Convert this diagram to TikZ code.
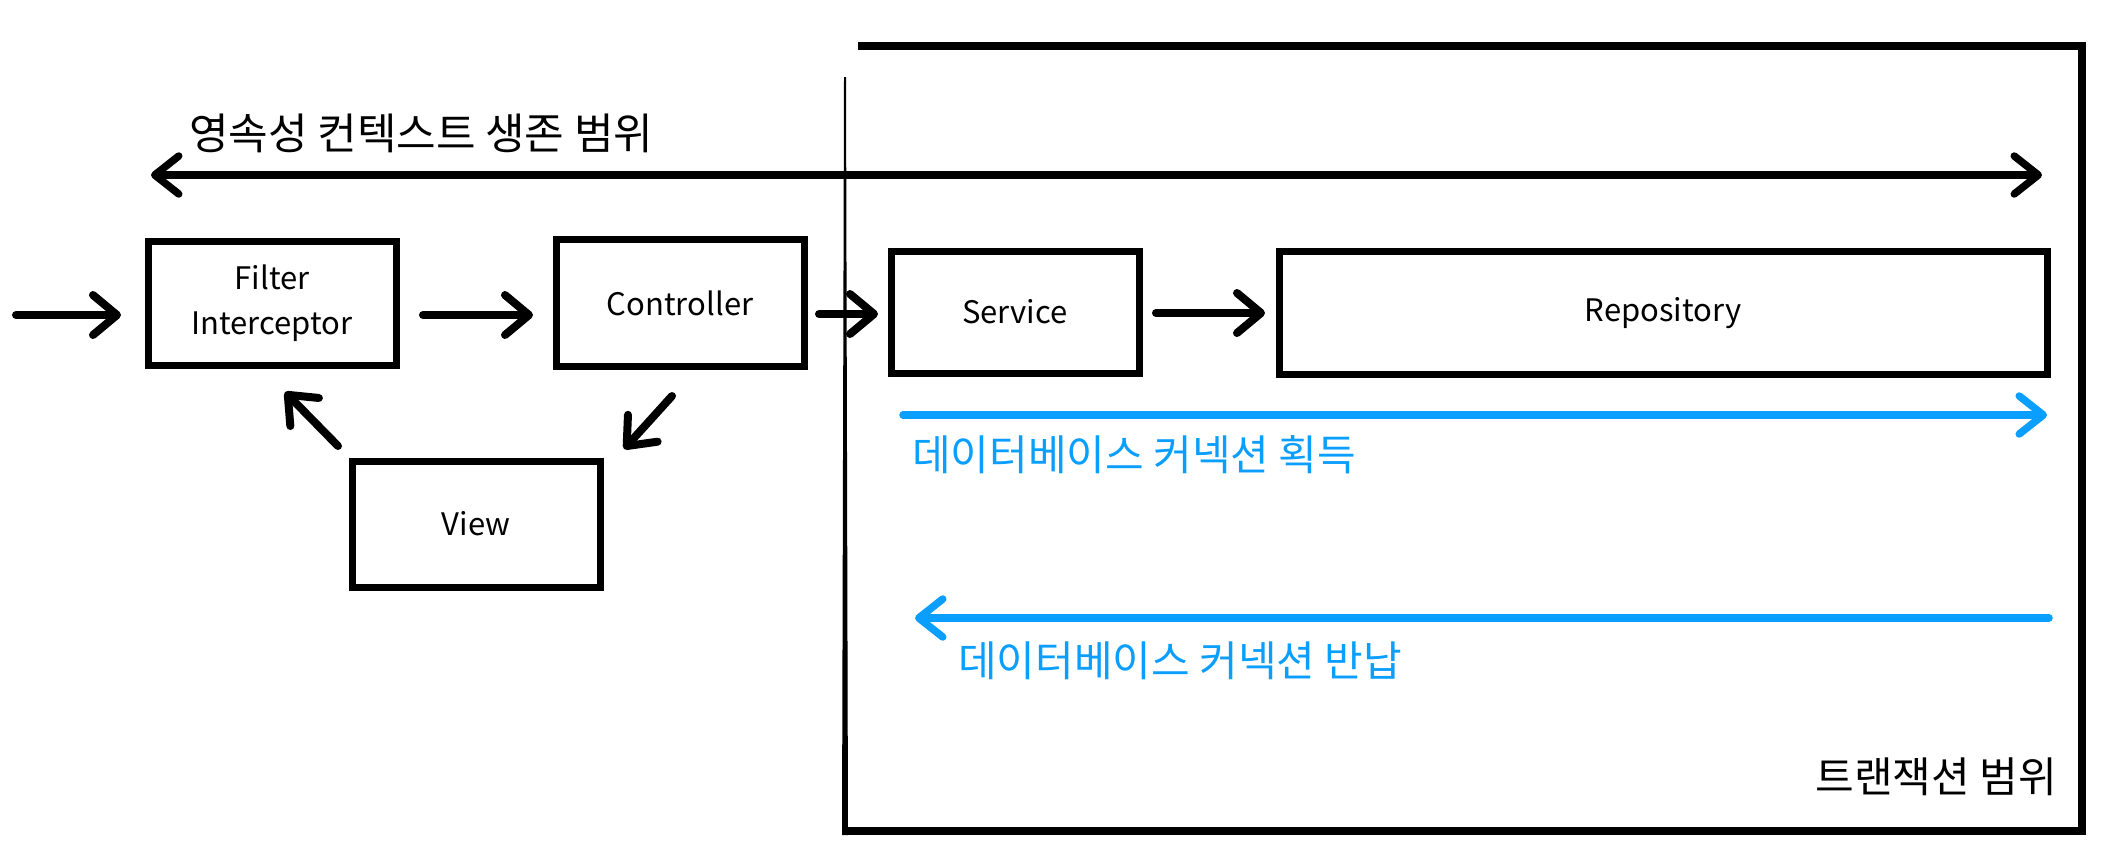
\documentclass[tikz,border=0pt]{standalone}
\usepackage{fontspec}
\setmainfont{Noto Sans CJK KR}
\usetikzlibrary{arrows.meta}
\definecolor{dbblue}{HTML}{0A9EFF}
\begin{document}
\begin{tikzpicture}[x=1pt,y=-1pt,
  box/.style={draw=black, line width=7pt, inner sep=0pt, align=center,
    font=\fontsize{31}{45}\selectfont},
  arr/.style={line width=8pt, line cap=round,
    -{Straight Barb[length=24pt,width=40pt,round]}},
  darr/.style={line width=7.5pt, line cap=round,
    {Straight Barb[length=24pt,width=38pt,round]}-{Straight Barb[length=24pt,width=38pt,round]}},
  barr/.style={draw=dbblue, line width=7.5pt, line cap=round,
    -{Straight Barb[length=24pt,width=38pt,round]}},
  lab/.style={inner sep=0pt, font=\fontsize{43}{50}\selectfont},
  blab/.style={inner sep=0pt, font=\fontsize{42}{50}\selectfont, text=dbblue}
]
\useasboundingbox (0,0) rectangle (2114,855);

% transaction scope box
\draw[line width=7.5pt, line cap=butt, line join=miter] (858,46) -- (2082,46) -- (2082,831) -- (845,831);
\fill (844,77) -- (846,77) -- (848,835) -- (842,835) -- cycle;
\node[inner sep=0pt, anchor=east, font=\fontsize{42}{50}\selectfont] (txlab) at (2057,777) {트랜잭션 범위};

% persistence context scope
\node[lab, anchor=west] (pclab) at (189,133) {영속성 컨텍스트 생존 범위};
\coordinate (pcL) at (151,175);
\coordinate (pcR) at (2042,175);
\draw[darr] (pcL) -- (pcR);

% boxes
\node[box, minimum width=248pt, minimum height=124pt] (filter) at (272,303) {Filter\\Interceptor};
\node[box, minimum width=248pt, minimum height=127pt] (ctrl) at (680,303) {Controller};
\node[box, minimum width=248pt, minimum height=122pt] (svc) at (1015,312) {Service};
\node[box, minimum width=768pt, minimum height=123pt] (repo) at (1663,313) {Repository};
\node[box, minimum width=248pt, minimum height=126pt] (view) at (476,524) {View};

% arrows
\coordinate (inS) at (16,315);   \coordinate (inE) at (121,315);
\coordinate (fcS) at (423,315);  \coordinate (fcE) at (533,315);
\coordinate (csS) at (819,314);  \coordinate (csE) at (878,314);
\coordinate (srS) at (1156,313); \coordinate (srE) at (1265,313);
\coordinate (cvS) at (672,396);  \coordinate (cvE) at (624,449);
\coordinate (vfS) at (338,446);  \coordinate (vfE) at (285,392);
\draw[arr] (inS) -- (inE);
\draw[arr] (fcS) -- (fcE);
\draw[arr] (csS) -- (csE);
\draw[arr] (srS) -- (srE);
\draw[arr] (cvS) -- (cvE);
\draw[arr] (vfS) -- (vfE);

% database connection
\coordinate (acqS) at (903,415); \coordinate (acqE) at (2047,415);
\draw[barr] (acqS) -- (acqE);
\node[blab, anchor=west] (acqlab) at (912,455) {데이터베이스 커넥션 획득};
\coordinate (retS) at (2049,618); \coordinate (retE) at (915,618);
\draw[barr] (retS) -- (retE);
\node[blab, anchor=west] (retlab) at (958,661) {데이터베이스 커넥션 반납};
\end{tikzpicture}
\end{document}
